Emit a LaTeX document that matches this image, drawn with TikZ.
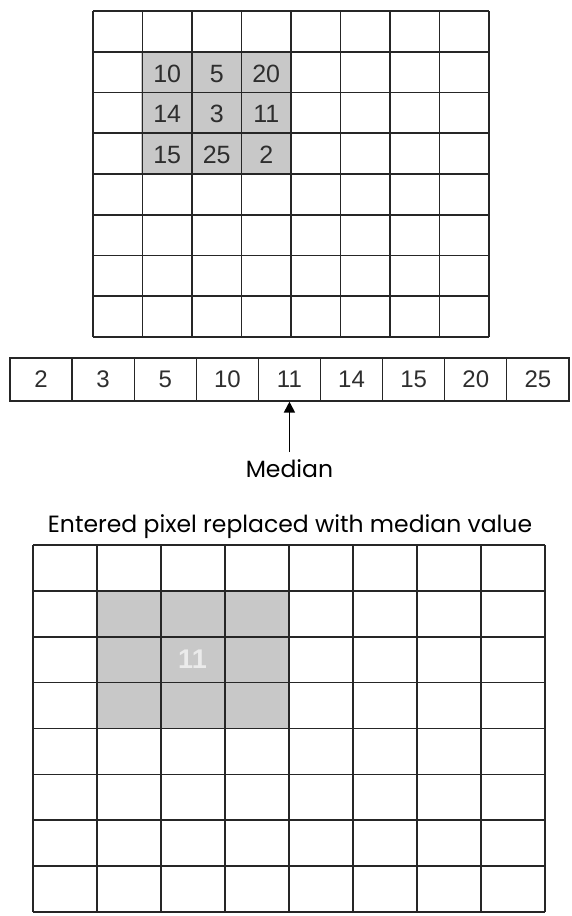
\documentclass[tikz,border=0pt]{standalone}
\usepackage{fontspec}
\setmainfont{Liberation Sans}
\newfontfamily\gothic{Poppins}
\usetikzlibrary{arrows.meta}
\definecolor{cellgray}{HTML}{C8C8C8}
\definecolor{numgray}{HTML}{2E2E2E}
\begin{document}
\begin{tikzpicture}[x=1pt,y=-1pt,
  gridline/.style={line width=1.7pt, draw=black!85},
  num/.style={font=\fontsize{25}{25}\selectfont, text=numgray},
  arrcell/.style={draw=black!85, line width=1.3pt, minimum width=62.1pt, minimum height=43pt, inner sep=0pt, font=\fontsize{24}{24}\selectfont, text=numgray},
  label/.style={font=\gothic\fontsize{23.5}{23.5}\selectfont, anchor=base}]
\useasboundingbox (0,0) rectangle (572,916);
% ---- top grid ----
\fill[cellgray] (140.5,51.75) rectangle (290.5,173.25);
\foreach \i in {0,...,8} \draw[gridline] ({93+\i*49.5},11) -- ({93+\i*49.5},337);
\foreach \j in {0,...,8} \draw[gridline] (93,{11+\j*40.75}) -- (489,{11+\j*40.75});
\foreach \v [count=\k from 0] in {10,5,20,14,3,11,15,25,2} {
  \pgfmathtruncatemacro{\c}{mod(\k,3)+1}
  \pgfmathtruncatemacro{\r}{div(\k,3)+1}
  \node[num] (t\k) at ({93+(\c+0.5)*49.5},{11+(\r+0.5)*40.75+1.5}) {\v};
}
% ---- sorted array ----
\foreach \v [count=\i] in {2,3,5,10,11,14,15,20,25}
  \node[arrcell] (a\i) at ({10+(\i-0.5)*62.1},379.5) {\v};
% ---- arrow and labels ----
\coordinate (tail) at (a5.south |- 0,452);
\draw[line width=1.8pt, -{Triangle[length=11pt,width=11pt]}] (tail) -- (a5.south);
\node[label] (median) at (a5.south |- 0,477) {Median};
\node[label] (caption) at (290,532) {Entered pixel replaced with median value};
% ---- bottom grid ----
\fill[cellgray] (97,591) rectangle (290,728.25);
\foreach \i in {0,...,8} \draw[gridline] ({33+\i*64},545) -- ({33+\i*64},912);
\foreach \j in {0,...,8} \draw[gridline] (33,{545+\j*45.875}) -- (545,{545+\j*45.875});
\node[font=\bfseries\fontsize{27}{27}\selectfont, text=black!8] (mid) at (192.5,659) {11};
\end{tikzpicture}
\end{document}
